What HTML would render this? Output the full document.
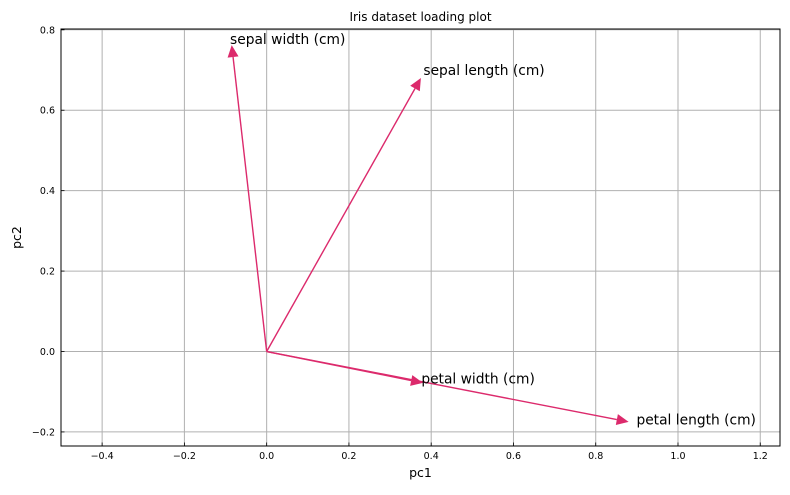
<!DOCTYPE html>
<html><head><meta charset="utf-8"><style>
body{margin:0;background:#fff;font-family:"Liberation Sans","DejaVu Sans",sans-serif}
svg text{font-family:"DejaVu Sans","Liberation Sans",sans-serif}
</style></head><body>
<svg id="chart" width="790" height="490" xmlns="http://www.w3.org/2000/svg"></svg>
<script>
const features = ["sepal length (cm)", "sepal width (cm)", "petal length (cm)", "petal width (cm)"];
const pc1 = [0.375, -0.085, 0.88, 0.38];
const pc2 = [0.68, 0.762, -0.175, -0.078];
const labelX = [0.381, -0.089, 0.899, 0.376];
const labelY = [0.688, 0.765, -0.181, -0.080];
const xTicks = [-0.4, -0.2, 0.0, 0.2, 0.4, 0.6, 0.8, 1.0, 1.2];
const yTicks = [-0.2, 0.0, 0.2, 0.4, 0.6, 0.8];

const L=61,R=780,T=29,B=446;
const X0=-0.5,X1=1.248,Y0=-0.235,Y1=0.802;
const sx=v=>L+(v-X0)/(X1-X0)*(R-L);
const sy=v=>B-(v-Y0)/(Y1-Y0)*(B-T);
const svg=document.getElementById('chart');
const NS="http://www.w3.org/2000/svg";
function mk(tag,attrs,parent){const e=document.createElementNS(NS,tag);for(const k in attrs)e.setAttribute(k,attrs[k]);(parent||svg).appendChild(e);return e;}

xTicks.forEach(t=>{
  const g=mk('line',{x1:sx(t),x2:sx(t),y1:T,y2:B,stroke:'#b0b0b0','stroke-width':1});
  
  
  const tk=mk('line',{x1:sx(t),x2:sx(t),y1:B,y2:B-3.5,stroke:'#000','stroke-width':0.8});
  
  
  const tx=mk('text',{x:sx(t),y:B+13,'font-size':9.5,'text-anchor':'middle'});
  tx.textContent=(t<0?'−':'')+Math.abs(t).toFixed(1);
  
  
});
yTicks.forEach(t=>{
  const g=mk('line',{x1:L,x2:R,y1:sy(t),y2:sy(t),stroke:'#b0b0b0','stroke-width':1});
  
  
  const tk=mk('line',{x1:L,x2:L+3.5,y1:sy(t),y2:sy(t),stroke:'#000','stroke-width':0.8});
  
  
  const tx=mk('text',{x:L-6,y:sy(t)+3.5,'font-size':9.5,'text-anchor':'end'});
  tx.textContent=(t<0?'−':'')+Math.abs(t).toFixed(1);
  
  
});
const frame=mk('rect',{x:L,y:T,width:R-L,height:B-T,fill:'none',stroke:'#000','stroke-width':1});



const col='#dc2a6c';
features.forEach((f,i)=>{
  const x0=sx(0),y0=sy(0),x1=sx(pc1[i]),y1=sy(pc2[i]);
  const dx=x1-x0,dy=y1-y0,len=Math.hypot(dx,dy),ux=dx/len,uy=dy/len;
  const hl=12,hw=5.5;
  const bx=x1-ux*hl,by=y1-uy*hl;
  const ln=mk('line',{x1:x0,y1:y0,x2:bx,y2:by,stroke:col,'stroke-width':1.4});
  
  
  const hd=mk('polygon',{points:`${x1},${y1} ${bx-uy*hw},${by+ux*hw} ${bx+uy*hw},${by-ux*hw}`,fill:col});
  
  
  const tx=mk('text',{x:sx(labelX[i]),y:sy(labelY[i]),'font-size':13.8});
  tx.textContent=f;
  
  
});

const ti=mk('text',{x:(L+R)/2,y:21,'font-size':12,'text-anchor':'middle'});
ti.textContent='Iris dataset loading plot';


const xl=mk('text',{x:(L+R)/2,y:477,'font-size':12.5,'text-anchor':'middle'});
xl.textContent='pc1';


const yl=mk('text',{x:21,y:(T+B)/2,'font-size':12.5,'text-anchor':'middle',transform:`rotate(-90 21 ${(T+B)/2})`});
yl.textContent='pc2';


</script>
</body></html>
